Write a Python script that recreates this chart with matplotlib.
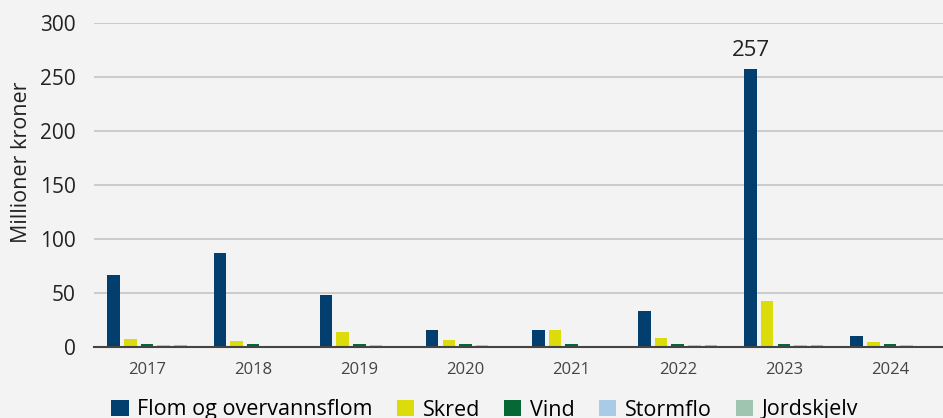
import matplotlib
matplotlib.use("Agg")
import matplotlib.pyplot as plt
import numpy as np

years = ["2017", "2018", "2019", "2020", "2021", "2022", "2023", "2024"]
series_names = ["Flom og overvannsflom", "Skred", "Vind", "Stormflo", "Jordskjelv"]
flom = [67, 87, 48, 15.5, 15.5, 33, 257, 10]
skred = [7, 5.5, 13.5, 6.5, 15.5, 8, 42.5, 4.5]
vind = [2.5, 2.5, 2.5, 2.5, 2.5, 2.5, 2.5, 2.5]
stormflo = [1.8, 0, 1.8, 1.8, 0, 1.8, 1.8, 1.8]
jordskjelv = [1.8, 0, 0, 0, 0, 1.8, 1.8, 0]
colors = ["#023e6e", "#dcdc0a", "#066835", "#a9cbe8", "#9fc4b0"]
yticks = [0, 50, 100, 150, 200, 250, 300]

plt.rcParams['font.family'] = ['Open Sans', 'DejaVu Sans']

fig = plt.figure(figsize=(9.43, 4.18), dpi=100, facecolor="#f3f3f3")
ax = fig.add_axes([94/943, 1-347/418, 1-94/943, (347-23)/418])
ax.set_facecolor("#f3f3f3")

x = np.arange(len(years))
step = 0.157
width = 0.118
data = [flom, skred, vind, stormflo, jordskjelv]
handles = []
for i, (vals, c, name) in enumerate(zip(data, colors, series_names)):
    b = ax.bar(x + (i - 2) * step, vals, width=width, color=c, label=name, zorder=3)
    handles.append(b)

ax.set_xlim(-0.5, len(years) - 0.5)
ax.set_ylim(0, 300)
ax.set_yticks(yticks)
ax.set_xticks(x)
ax.set_xticklabels(years, fontsize=12, color="#444444")
ax.tick_params(axis='y', length=0, labelsize=15, pad=13, labelcolor="#222222")
ax.tick_params(axis='x', length=0, pad=11)
ax.grid(axis='y', color="#c8c8c8", linewidth=1.3, zorder=0)
for s in ["top", "right", "left"]:
    ax.spines[s].set_visible(False)
ax.spines["bottom"].set_color("#444444")
ax.spines["bottom"].set_linewidth(1.5)
ax.spines["bottom"].set_zorder(4)

ax.set_ylabel("Millioner kroner", fontsize=15.5, color="#222222")
ax.yaxis.set_label_coords(-62/849, (347-162)/324)

idx = flom.index(max(flom))
ax.text(x[idx] - 2 * step, flom[idx] + 8, f"{flom[idx]:g}", ha='center', va='bottom',
        fontsize=16, color="#222222")

leg = fig.legend(handles=handles, labels=series_names, loc='center', ncol=5,
                 bbox_to_anchor=(0.514, 8/418), frameon=False, fontsize=15.5,
                 handlelength=0.8, handleheight=0.8, handletextpad=0.4, columnspacing=1.12)

fig.savefig("out.png", dpi=100, facecolor=fig.get_facecolor())
